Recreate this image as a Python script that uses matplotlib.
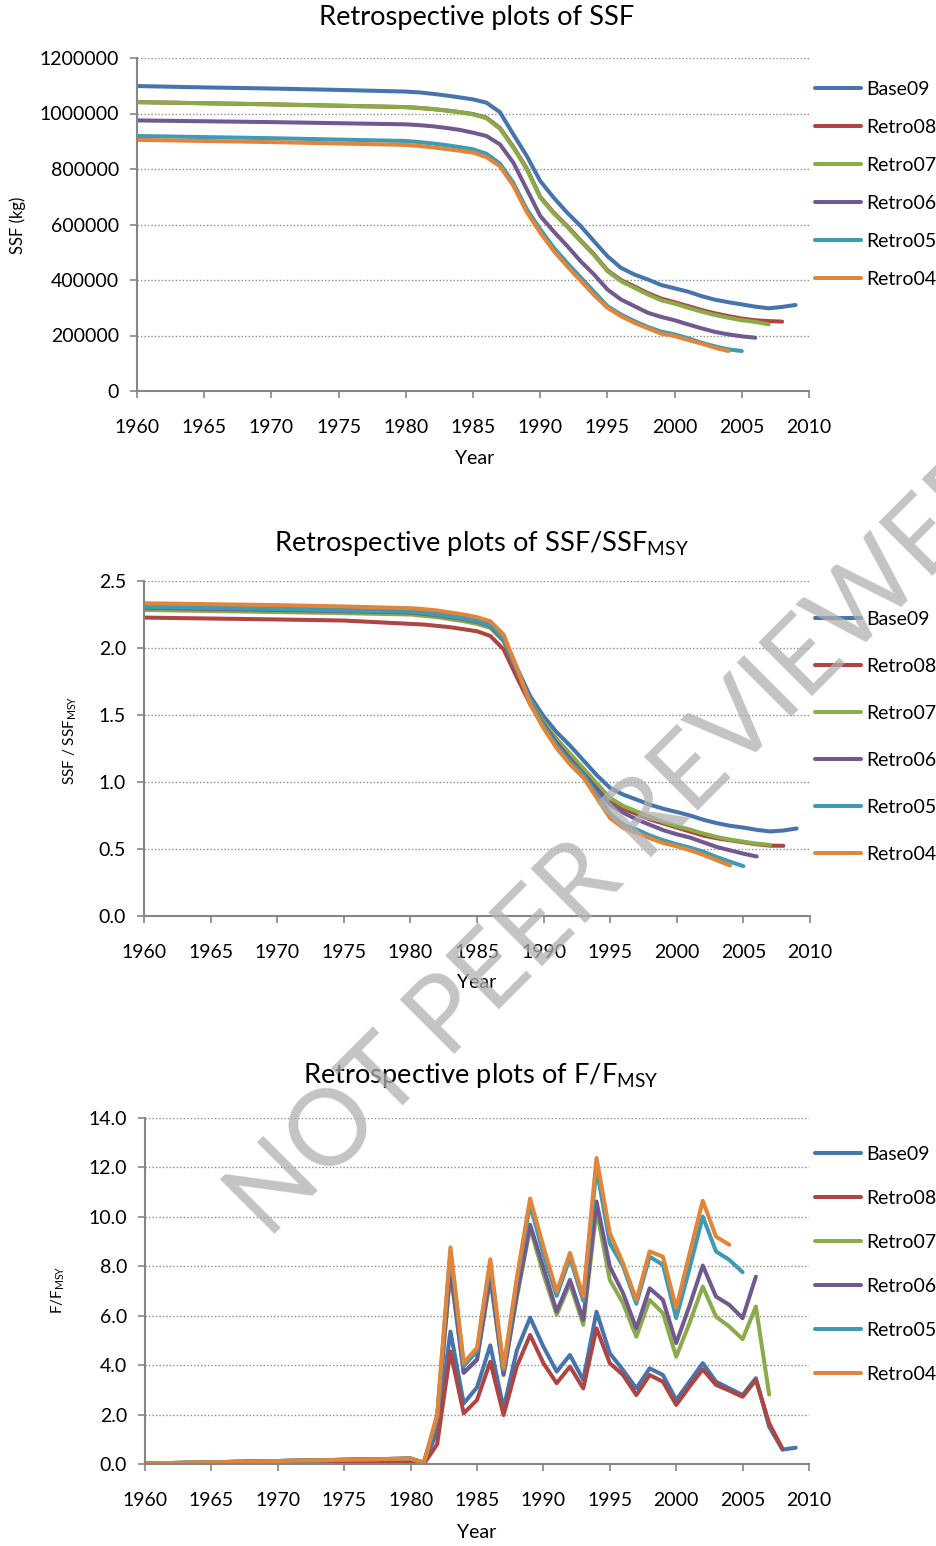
import numpy as np
import matplotlib
matplotlib.use('Agg')
from matplotlib import pyplot as plt

plt.rcParams['font.family'] = ['Lato', 'DejaVu Sans']
plt.rcParams['mathtext.fontset'] = 'custom'
plt.rcParams['mathtext.rm'] = 'Lato'

# Years: every 5 years up to 1980, then annual
years = [1960, 1965, 1970, 1975, 1980] + list(range(1981, 2010))
runs = ['Base09', 'Retro08', 'Retro07', 'Retro06', 'Retro05', 'Retro04']
colors = ['#4674AD', '#AE4542', '#8AAB4A', '#71588F', '#3E9BB3', '#E0853A']

# SSF (thousand kg)
ssf_base09 = [1099, 1094, 1090, 1085, 1079, 1076, 1071, 1065, 1058, 1051, 1039, 1005, 925, 847, 757,
              697, 643, 595, 540, 486, 444, 420, 402, 382, 370, 358, 342, 329, 320, 312, 304, 298, 303, 310]
ssf_retro08 = [1041, 1037, 1033, 1028, 1023, 1020, 1016, 1011, 1005, 998, 985, 948, 880, 802, 700,
               643, 595, 543, 493, 435, 400, 377, 353, 333, 320, 306, 292, 280, 270, 261, 255, 252, 250]
ssf_retro07 = [1041, 1037, 1033, 1028, 1023, 1020, 1016, 1011, 1005, 997, 983, 945, 877, 799, 697,
               640, 592, 540, 490, 432, 396, 372, 348, 327, 315, 300, 286, 274, 264, 255, 249, 240]
ssf_retro06 = [975, 972, 969, 965, 961, 958, 954, 948, 941, 931, 919, 889, 823, 727, 631,
               575, 523, 468, 420, 366, 330, 306, 282, 267, 255, 240, 226, 213, 204, 197, 192]
ssf_retro05 = [919, 915, 911, 906, 901, 897, 892, 886, 879, 871, 855, 820, 750, 655, 583,
               517, 462, 410, 358, 306, 276, 252, 231, 214, 204, 190, 174, 161, 150, 144]
ssf_retro04 = [905, 901, 897, 892, 887, 883, 878, 872, 866, 859, 843, 810, 740, 645, 571,
               505, 450, 398, 346, 300, 270, 246, 226, 207, 198, 184, 171, 156, 144]

# SSF / SSF_MSY
rel_base09 = [2.31, 2.30, 2.295, 2.285, 2.275, 2.265, 2.255, 2.24, 2.225, 2.205, 2.175, 2.08, 1.85, 1.64, 1.49,
              1.37, 1.27, 1.16, 1.05, 0.955, 0.905, 0.868, 0.83, 0.80, 0.776, 0.75, 0.718, 0.693, 0.673,
              0.66, 0.643, 0.631, 0.638, 0.653]
rel_retro08 = [2.227, 2.22, 2.213, 2.205, 2.18, 2.175, 2.165, 2.155, 2.14, 2.125, 2.09, 1.99, 1.78, 1.58, 1.42,
               1.30, 1.19, 1.08, 0.97, 0.86, 0.80, 0.76, 0.72, 0.69, 0.66, 0.63, 0.60, 0.58, 0.565,
               0.55, 0.535, 0.525, 0.524]
rel_retro07 = [2.284, 2.276, 2.268, 2.26, 2.25, 2.24, 2.23, 2.215, 2.2, 2.18, 2.15, 2.05, 1.83, 1.61, 1.45,
               1.32, 1.21, 1.10, 0.99, 0.88, 0.82, 0.78, 0.74, 0.70, 0.67, 0.645, 0.615, 0.59, 0.57,
               0.555, 0.54, 0.53]
rel_retro06 = [2.30, 2.292, 2.284, 2.275, 2.265, 2.255, 2.245, 2.23, 2.215, 2.195, 2.165, 2.06, 1.83, 1.60, 1.43,
               1.29, 1.17, 1.06, 0.95, 0.83, 0.77, 0.72, 0.68, 0.64, 0.61, 0.585, 0.55, 0.515, 0.49,
               0.465, 0.444]
rel_retro05 = [2.307, 2.299, 2.291, 2.28, 2.27, 2.26, 2.25, 2.235, 2.22, 2.20, 2.17, 2.07, 1.84, 1.60, 1.42,
               1.27, 1.15, 1.05, 0.91, 0.76, 0.68, 0.645, 0.60, 0.565, 0.535, 0.51, 0.48, 0.44, 0.405,
               0.372]
rel_retro04 = [2.334, 2.327, 2.32, 2.31, 2.297, 2.29, 2.28, 2.265, 2.25, 2.23, 2.20, 2.10, 1.85, 1.58, 1.40,
               1.25, 1.13, 1.03, 0.88, 0.73, 0.656, 0.62, 0.58, 0.544, 0.52, 0.49, 0.456, 0.416, 0.377]

# F / F_MSY
f_base09 = [0.02, 0.07, 0.12, 0.17, 0.21, 0.03, 1.3, 5.36, 2.45, 3.1, 4.8, 2.25, 4.6, 5.92, 4.75,
            3.74, 4.41, 3.4, 6.16, 4.48, 3.8, 3.06, 3.87, 3.6, 2.59, 3.33, 4.08, 3.33, 3.06,
            2.79, 3.47, 1.51, 0.58, 0.66]
f_retro08 = [0.0, 0.02, 0.04, 0.06, 0.07, 0.0, 0.8, 4.55, 2.05, 2.59, 4.14, 1.98, 3.95, 5.22, 4.08,
             3.27, 3.94, 3.06, 5.49, 4.08, 3.6, 2.79, 3.6, 3.33, 2.39, 3.13, 3.83, 3.2, 2.97,
             2.72, 3.4, 1.65, 0.62]
f_retro07 = [0.02, 0.07, 0.12, 0.17, 0.22, 0.05, 1.8, 7.8, 3.7, 4.2, 7.5, 3.6, 6.73, 9.55, 7.68,
             6.04, 7.3, 5.63, 10.28, 7.45, 6.5, 5.15, 6.64, 6.1, 4.34, 5.7, 7.18, 5.96, 5.56,
             5.05, 6.37, 2.81]
f_retro06 = [0.02, 0.07, 0.12, 0.17, 0.22, 0.05, 1.8, 7.92, 3.69, 4.23, 7.65, 3.62, 6.86, 9.68, 7.95,
             6.17, 7.45, 5.83, 10.62, 7.99, 6.91, 5.49, 7.11, 6.64, 4.89, 6.4, 8.03, 6.77, 6.44,
             5.9, 7.58]
f_retro05 = [0.02, 0.07, 0.12, 0.17, 0.22, 0.05, 1.9, 8.62, 3.96, 4.57, 8.15, 3.82, 7.4, 10.5, 8.49,
             6.8, 8.35, 6.6, 11.97, 8.93, 8.0, 6.48, 8.39, 8.06, 5.9, 7.9, 10.01, 8.6, 8.26,
             7.76]
f_retro04 = [0.02, 0.07, 0.12, 0.17, 0.22, 0.05, 2.0, 8.76, 4.1, 4.7, 8.28, 3.9, 7.54, 10.74, 8.8,
             6.97, 8.54, 6.77, 12.38, 9.35, 8.12, 6.64, 8.6, 8.39, 6.31, 8.5, 10.65, 9.2, 8.87]

ssf = [ssf_base09, ssf_retro08, ssf_retro07, ssf_retro06, ssf_retro05, ssf_retro04]
rel = [rel_base09, rel_retro08, rel_retro07, rel_retro06, rel_retro05, rel_retro04]
fr = [f_base09, f_retro08, f_retro07, f_retro06, f_retro05, f_retro04]

W, H = 937, 1546
fig = plt.figure(figsize=(W / 100, H / 100), dpi=100)

axis_col = '#868686'
tick_fs = 14


def px_axes(left, top, right, bottom):
    # axes placed from pixel edges
    return fig.add_axes([left / W, 1 - bottom / H, (right - left) / W, (bottom - top) / H])


def style(ax, yticks, fmt):
    ax.set_xlim(1960, 2010)
    ax.set_xticks(range(1960, 2011, 5))
    ax.set_ylim(yticks[0], yticks[-1])
    ax.set_yticks(yticks)
    ax.set_yticklabels([fmt.format(v) for v in yticks])
    for s in ['top', 'right']:
        ax.spines[s].set_visible(False)
    for s in ['left', 'bottom']:
        ax.spines[s].set_color(axis_col)
        ax.spines[s].set_linewidth(1.5)
    ax.tick_params(axis='both', colors=axis_col, width=1.2, length=5, labelcolor='black', labelsize=tick_fs)
    ax.tick_params(axis='x', pad=15)
    ax.tick_params(axis='y', pad=8)
    for v in yticks[1:]:
        ax.axhline(v, color='#8c8c8c', lw=1, ls=(0, (1, 1.5)), zorder=0)


def draw_lines(ax, series, scale=1.0):
    for name, vals, c in zip(runs, series, colors):
        ax.plot(years[:len(vals)], np.array(vals) * scale, color=c, lw=2.9, label=name,
                solid_capstyle='round', solid_joinstyle='round')


def legend(ax, x, y, spacing):
    ax.legend(loc='upper left', bbox_to_anchor=(x / W, 1 - y / H), bbox_transform=fig.transFigure,
              frameon=False, fontsize=14, handlelength=2.37, handletextpad=0.28,
              labelspacing=spacing, borderpad=0, borderaxespad=0)


# ---- SSF ----
ax1 = px_axes(137, 58, 809, 391)
draw_lines(ax1, ssf, 1000)
style(ax1, list(range(0, 1200001, 200000)), '{:d}')
legend(ax1, 815, 81, 1.08)
fig.text(477 / W, 1 - 18 / H, 'Retrospective plots of SSF', ha='center', va='center', fontsize=19.6)
fig.text(18 / W, 1 - 225 / H, 'SSF (kg)', rotation=90, ha='center', va='center', fontsize=12)
fig.text(475 / W, 1 - 458 / H, 'Year', ha='center', va='center', fontsize=14)

# ---- SSF/SSFmsy ----
ax2 = px_axes(144, 581, 810, 916)
draw_lines(ax2, rel)
style(ax2, [0.0, 0.5, 1.0, 1.5, 2.0, 2.5], '{:.1f}')
legend(ax2, 815, 611, 1.54)
fig.text(481 / W, 1 - 543 / H, r'Retrospective plots of SSF/SSF$\mathregular{_{MSY}}$',
         ha='center', va='center', fontsize=19.6)
fig.text(70 / W, 1 - 740 / H, r'SSF / SSF$\mathregular{_{MSY}}$', rotation=90, ha='center', va='center',
         fontsize=11)
fig.text(477 / W, 1 - 983 / H, 'Year', ha='center', va='center', fontsize=14)

# ---- F/Fmsy ----
ax3 = px_axes(145, 1118, 809, 1464)
draw_lines(ax3, fr)
style(ax3, [0.0, 2.0, 4.0, 6.0, 8.0, 10.0, 12.0, 14.0], '{:.1f}')
legend(ax3, 815, 1146, 1.39)
fig.text(481 / W, 1 - 1076 / H, r'Retrospective plots of F/F$\mathregular{_{MSY}}$',
         ha='center', va='center', fontsize=19.6)
fig.text(58 / W, 1 - 1290 / H, r'F/F$\mathregular{_{MSY}}$', rotation=90, ha='center', va='center',
         fontsize=11)
fig.text(477 / W, 1 - 1533 / H, 'Year', ha='center', va='center', fontsize=14)

# watermark
fig.text(268 / W, 1 - 1240 / H, 'NOT PEER REVIEWED', rotation=45, rotation_mode='anchor',
         ha='left', va='baseline', fontsize=76, color='#b0b0b0', alpha=0.75, zorder=10)

fig.savefig('out.png', dpi=100)
